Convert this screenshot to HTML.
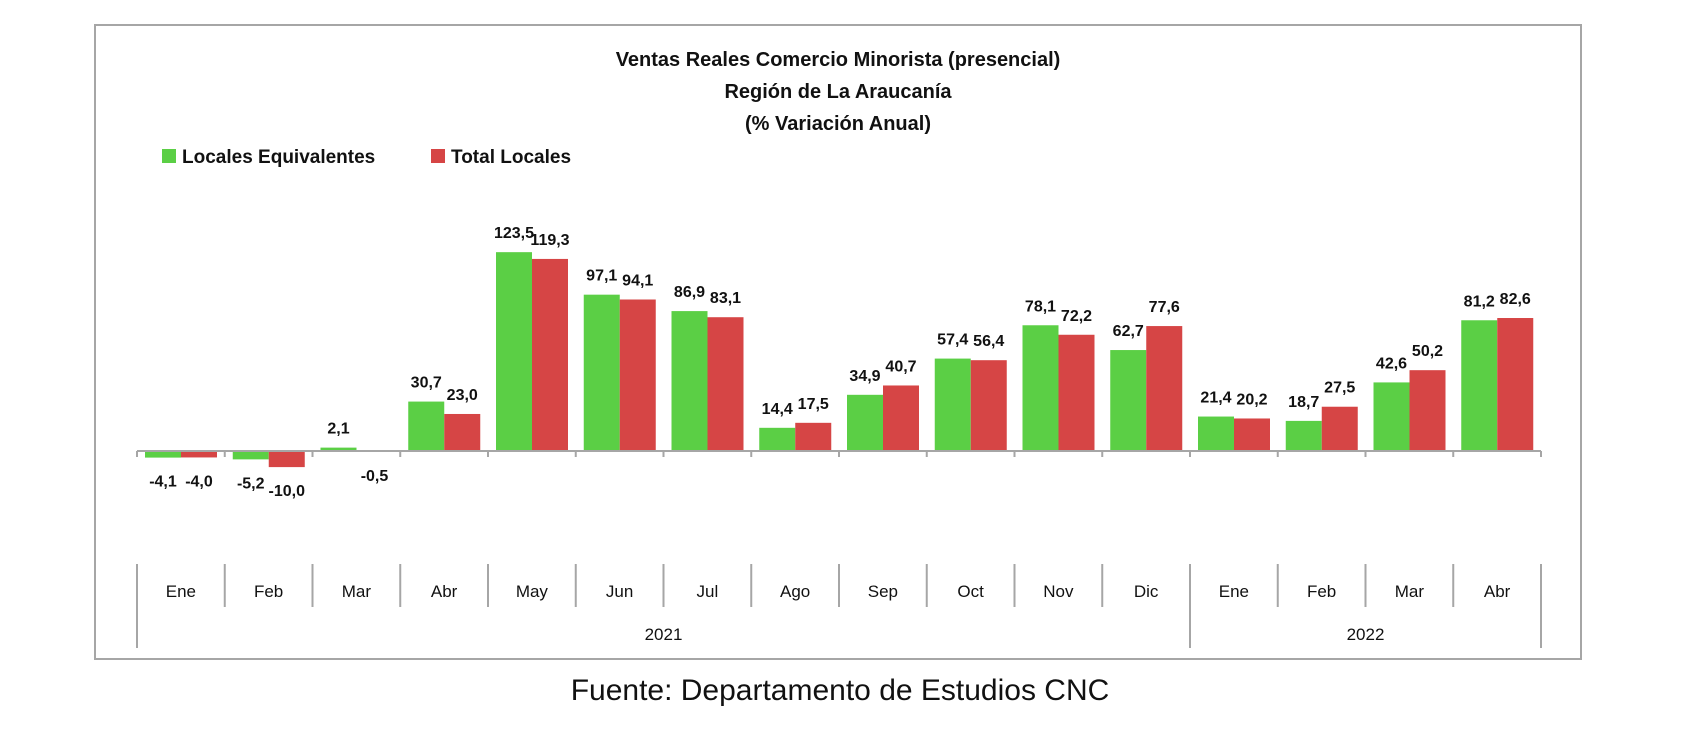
<!DOCTYPE html>
<html><head><meta charset="utf-8"><style>
html,body{margin:0;padding:0;background:#fff;}
svg{display:block;font-family:"Liberation Sans",Calibri,sans-serif;}
</style></head><body>
<svg id="chart" width="1692" height="733" viewBox="0 0 1692 733" xmlns="http://www.w3.org/2000/svg">
<rect x="95" y="25" width="1486" height="634" fill="#fff" stroke="#a6a6a6" stroke-width="2"/>
<g font-weight="bold" font-size="20" text-anchor="middle" fill="#111">
<text x="838" y="66">Ventas Reales Comercio Minorista (presencial)</text>
<text x="838" y="98">Región de La Araucanía</text>
<text x="838" y="130">(% Variación Anual)</text>
</g>
<g font-weight="bold" font-size="19" fill="#111">
<rect x="162" y="149" width="14" height="14" fill="#5bcf45"/>
<text x="182" y="163">Locales Equivalentes</text>
<rect x="431" y="149" width="14" height="14" fill="#d64545"/>
<text x="451" y="163">Total Locales</text>
</g>
<g id="plot"></g>
<text x="840" y="700" font-size="30" text-anchor="middle" fill="#111">Fuente: Departamento de Estudios CNC</text>
</svg>
<script>
const categories = ["Ene","Feb","Mar","Abr","May","Jun","Jul","Ago","Sep","Oct","Nov","Dic","Ene","Feb","Mar","Abr"];
const years = ["2021","2022"];
const yearSpans = [12, 4];
const equivalentes = [-4.1,-5.2,2.1,30.7,123.5,97.1,86.9,14.4,34.9,57.4,78.1,62.7,21.4,18.7,42.6,81.2];
const totales = [-4.0,-10.0,-0.5,23.0,119.3,94.1,83.1,17.5,40.7,56.4,72.2,77.6,20.2,27.5,50.2,82.6];

const NS = "http://www.w3.org/2000/svg";
const plot = document.getElementById("plot");
const x0 = 137, catW = 87.75, zeroY = 451, pxPerUnit = 1.61, barW = 36;
function xCat(i){ return x0 + i*catW; }
function yVal(v){ return zeroY - v*pxPerUnit; }
function fmt(v){ return v.toFixed(1).replace(".", ","); }
function mk(tag, attrs){ const e=document.createElementNS(NS,tag); for(const k in attrs) e.setAttribute(k, attrs[k]); plot.appendChild(e); return e; }

function drawBar(i, v, off, color, name){
  const x = xCat(i) + 8 + off;
  const y = Math.min(yVal(v), zeroY);
  const h = Math.abs(yVal(v) - zeroY);
  const r = mk("rect", {x:x, y:y, width:barW, height:Math.max(h,1), fill:color});
  
  
  const ty = v >= 0 ? yVal(v) - 14 : yVal(v) + 29;
  const t = mk("text", {x:x+barW/2, y:ty, "text-anchor":"middle", "font-size":"16", "font-weight":"bold", fill:"#111"});
  t.textContent = fmt(v);
  
  
}
categories.forEach((c,i)=>{
  drawBar(i, equivalentes[i], 0, "#5bcf45", "equivalentes");
  drawBar(i, totales[i], barW, "#d64545", "total");
});
// axis line
const ax = mk("line", {x1:x0, y1:zeroY, x2:xCat(categories.length), y2:zeroY, stroke:"#a6a6a6", "stroke-width":2});


for(let i=0;i<=categories.length;i++){
  const tk = mk("line", {x1:xCat(i), y1:zeroY, x2:xCat(i), y2:zeroY+6, stroke:"#a6a6a6", "stroke-width":2});
  
  
}
// category labels + separators
let yearBounds = [0]; let acc=0; yearSpans.forEach(s=>{acc+=s; yearBounds.push(acc);});
for(let i=0;i<=categories.length;i++){
  const isYear = yearBounds.includes(i);
  const l = mk("line", {x1:xCat(i), y1:564, x2:xCat(i), y2:isYear?648:607, stroke:"#a6a6a6", "stroke-width":2});
  
  
}
categories.forEach((c,i)=>{
  const t = mk("text", {x:xCat(i)+catW/2, y:597, "text-anchor":"middle", "font-size":"17", fill:"#111"});
  t.textContent = c;
  
  
});
years.forEach((yv,j)=>{
  const cx = (xCat(yearBounds[j]) + xCat(yearBounds[j+1]))/2;
  const t = mk("text", {x:cx, y:640, "text-anchor":"middle", "font-size":"17", fill:"#111"});
  t.textContent = yv;
  
  
});
</script>
</body></html>
